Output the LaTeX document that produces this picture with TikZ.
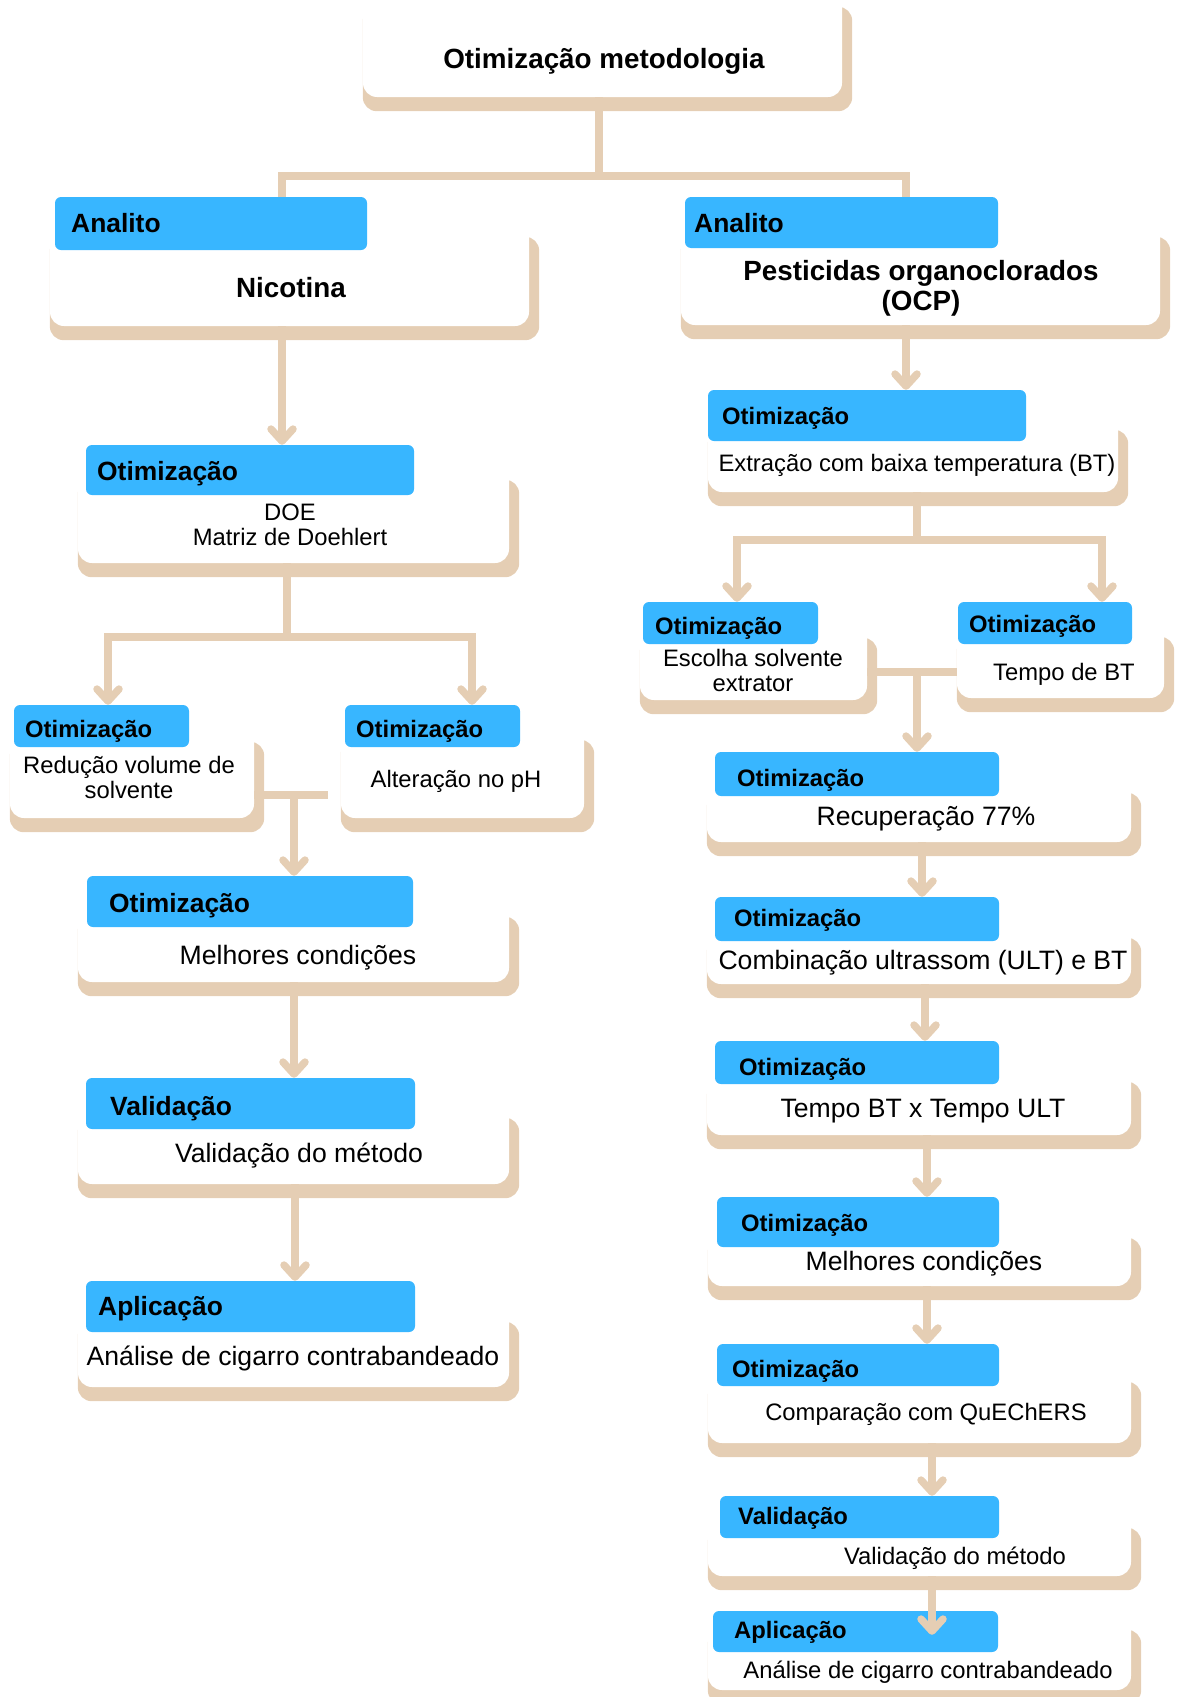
\documentclass[tikz,border=0pt]{standalone}
\usepackage{fontspec}
\setmainfont{Liberation Sans}
\usepackage{tikz}
\usetikzlibrary{arrows.meta,positioning,calc,fit,backgrounds}
\definecolor{headBlue}{RGB}{56,182,255}
\definecolor{cardTan}{RGB}{229,206,180}

\begin{document}
\begin{tikzpicture}[x=1pt,y=-1pt,
    card/.style={inner sep=0pt,fill=white,rounded corners=14pt},
    head/.style={inner sep=0pt,fill=headBlue,rounded corners=6pt},
    hbig/.style={anchor=base west,inner sep=0pt,font=\bfseries\fontsize{26.4}{30}\selectfont},
    hsmall/.style={anchor=base west,inner sep=0pt,font=\bfseries\fontsize{23.8}{27}\selectfont},
    tbold/.style={anchor=base,align=center,inner sep=0pt,font=\bfseries\fontsize{27.8}{30}\selectfont},
    tbig/.style={anchor=base,align=center,inner sep=0pt,font=\fontsize{26.6}{30}\selectfont},
    tsmall/.style={anchor=base,align=center,inner sep=0pt,font=\fontsize{23.8}{24.5}\selectfont},
    link/.style={line width=7.5pt,draw=cardTan},
    arrow/.style={link,-{Straight Barb[length=12pt,width=22pt,round]}}
  ]
    \useasboundingbox (0,0) rectangle (1176,1697);

    \node[card,fit={(363,-7) (842,97)}] (top) {};
    \node[tbold] (topT) at (604,68) {Otimização metodologia};

    \node[card,fit={(50,223) (529,326)}] (nic) {};
    \node[head,fit={(55,197) (367,250)}] (nicH) {};
    \node[hbig] (nicHt) at (71,232) {Analito};
    \node[tbold] (nicT) at (291,297) {Nicotina};

    \node[card,fit={(78,466) (509,563)}] (doe) {};
    \node[head,fit={(86,445) (414,495)}] (doeH) {};
    \node[hbig] (doeHt) at (97,480) {Otimização};
    \node[tsmall] (doeT) at (290,545) {DOE\\Matriz de Doehlert};

    \node[card,fit={(10,728) (254,818)}] (red) {};
    \node[head,fit={(14,705) (189,747)}] (redH) {};
    \node[hsmall] (redHt) at (25,737) {Otimização};
    \node[tsmall] (redT) at (129,798) {Redução volume de\\solvente};

    \node[card,fit={(341,726) (584,818)}] (alt) {};
    \node[head,fit={(345,705) (520,747)}] (altH) {};
    \node[hsmall] (altHt) at (356,737) {Otimização};
    \node[tsmall] (altT) at (456,787) {Alteração no pH};

    \node[card,fit={(78,903) (509,982)}] (melL) {};
    \node[head,fit={(87,876) (413,927)}] (melLH) {};
    \node[hbig] (melLHt) at (109,912) {Otimização};
    \node[tbig] (melLT) at (298,964) {Melhores condições};

    \node[card,fit={(78,1104) (509,1184)}] (valL) {};
    \node[head,fit={(86,1078) (415,1129)}] (valLH) {};
    \node[hbig] (valLHt) at (110,1115) {Validação};
    \node[tbig] (valLT) at (299,1162) {Validação do método};

    \node[card,fit={(78,1308) (509,1387)}] (aplL) {};
    \node[head,fit={(86,1281) (415,1332)}] (aplLH) {};
    \node[hbig] (aplLHt) at (98,1315) {Aplicação};
    \node[tbig] (aplLT) at (293,1365) {Análise de cigarro contrabandeado};

    \node[card,fit={(681,223) (1160,325)}] (ocp) {};
    \node[head,fit={(685,197) (998,248)}] (ocpH) {};
    \node[hbig] (ocpHt) at (694,232) {Analito};
    \node[tbold] (ocpT) at (921,310) {Pesticidas organoclorados\\(OCP)};

    \node[card,fit={(708,416) (1118,492)}] (bt) {};
    \node[head,fit={(708,390) (1026,441)}] (btH) {};
    \node[hsmall] (btHt) at (722,424) {Otimização};
    \node[tsmall] (btT) at (917,471) {Extração com baixa temperatura (BT)};

    \node[card,fit={(640,624) (867,700)}] (esc) {};
    \node[head,fit={(643,602) (818,644)}] (escH) {};
    \node[hsmall] (escHt) at (655,634) {Otimização};
    \node[tsmall] (escT) at (753,691) {Escolha solvente\\extrator};

    \node[card,fit={(957,623) (1164,698)}] (tbt) {};
    \node[head,fit={(958,602) (1132,644)}] (tbtH) {};
    \node[hsmall] (tbtHt) at (969,632) {Otimização};
    \node[tsmall] (tbtT) at (1064,680) {Tempo de BT};

    \node[card,fit={(707,779) (1131,842)}] (rec) {};
    \node[head,fit={(715,752) (999,796)}] (recH) {};
    \node[hsmall] (recHt) at (737,786) {Otimização};
    \node[tbig] (recT) at (926,825) {Recuperação 77\%};

    \node[card,fit={(707,924) (1131,984)}] (comb) {};
    \node[head,fit={(715,897) (999,941)}] (combH) {};
    \node[hsmall] (combHt) at (734,926) {Otimização};
    \node[tbig] (combT) at (923,969) {Combinação ultrassom (ULT) e BT};

    \node[card,fit={(707,1068) (1131,1135)}] (tult) {};
    \node[head,fit={(715,1041) (999,1084)}] (tultH) {};
    \node[hsmall] (tultHt) at (739,1075) {Otimização};
    \node[tbig] (tultT) at (923,1117) {Tempo BT x Tempo ULT};

    \node[card,fit={(708,1224) (1131,1286)}] (melR) {};
    \node[head,fit={(717,1197) (999,1247)}] (melRH) {};
    \node[hsmall] (melRHt) at (741,1231) {Otimização};
    \node[tbig] (melRT) at (924,1270) {Melhores condições};

    \node[card,fit={(708,1368) (1131,1443)}] (comp) {};
    \node[head,fit={(717,1344) (999,1386)}] (compH) {};
    \node[hsmall] (compHt) at (732,1377) {Otimização};
    \node[tsmall] (compT) at (926,1420) {Comparação com QuEChERS};

    \node[card,fit={(708,1514) (1131,1576)}] (valR) {};
    \node[head,fit={(720,1496) (999,1538)}] (valRH) {};
    \node[hsmall] (valRHt) at (738,1524) {Validação};
    \node[tsmall] (valRT) at (955,1564) {Validação do método};

    \node[card,fit={(708,1616) (1131,1690)}] (aplR) {};
    \node[head,fit={(713,1611) (998,1652)}] (aplRH) {};
    \node[hsmall] (aplRHt) at (734,1638) {Aplicação};
    \node[tsmall] (aplRT) at (928,1678) {Análise de cigarro contrabandeado};

    \begin{scope}[on background layer]
      \foreach \n in {top,nic,doe,red,alt,melL,valL,aplL,ocp,bt,esc,tbt,rec,comb,tult,melR,comp,valR,aplR}
        \fill[cardTan,rounded corners=14pt] ($(\n.north west)+(0,14)$) rectangle ($(\n.south east)+(10,14)$);
    \end{scope}

    \coordinate (jTop) at (599,176);
    \coordinate (jTopL) at (282,176);
    \coordinate (jTopR) at (906,176);
    \draw[link] (jTop |- top.south) -- (jTop);
    \draw[link] (jTopL |- nicH.north) -- (jTopL) -- (jTopR) -- (jTopR |- ocpH.north);

    \draw[arrow] (282,0 |- nic.south) -- (282,0 |- doeH.north);
    \coordinate (jDoe) at (287,637);
    \draw[link] (jDoe |- doe.south) -- (jDoe);
    \draw[arrow] (jDoe) -| (108,0 |- redH.north);
    \draw[arrow] (jDoe) -| (472,0 |- altH.north);
    \coordinate (jRed) at (294,795);
    \coordinate (jAlt) at (328,795);
    \draw[link] (red.east |- jRed) -- (jAlt);
    \draw[arrow] (jRed) -- (jRed |- melLH.north);
    \draw[arrow] (294,0 |- melL.south) -- (294,0 |- valLH.north);
    \draw[arrow] (295,0 |- valL.south) -- (295,0 |- aplLH.north);

    \draw[arrow] (906,0 |- ocp.south) -- (906,0 |- btH.north);
    \coordinate (jBt) at (917,540);
    \draw[link] (jBt |- bt.south) -- (jBt);
    \draw[arrow] (jBt) -| (737,0 |- escH.north);
    \draw[arrow] (jBt) -| (1102,0 |- tbtH.north);
    \coordinate (jEsc) at (917,672);
    \draw[link] (esc.east |- jEsc) -- (tbt.west |- jEsc);
    \draw[arrow] (jEsc) -- (jEsc |- recH.north);
    \draw[arrow] (922,0 |- rec.south) -- (922,0 |- combH.north);
    \draw[arrow] (925,0 |- comb.south) -- (925,0 |- tultH.north);
    \draw[arrow] (927,0 |- tult.south) -- (927,0 |- melRH.north);
    \draw[arrow] (927,0 |- melR.south) -- (927,0 |- compH.north);
    \draw[arrow] (932,0 |- comp.south) -- (932,0 |- valRH.north);
    \draw[arrow] (932,0 |- valR.south) -- ($(932,0 |- aplRH.north)+(0,24)$);
  \end{tikzpicture}
\end{document}
